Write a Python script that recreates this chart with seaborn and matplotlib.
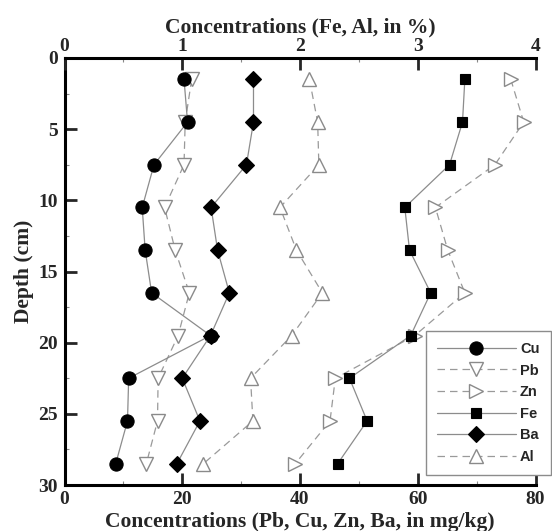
#### Depth profiles of trace elements (mg/kg) and major elements (%)

import numpy as np
import pandas as pd
import matplotlib
matplotlib.use('Agg')
import matplotlib.pyplot as plt
from matplotlib.ticker import MultipleLocator
import seaborn as sns

#### Data
depth = [1.5, 4.5, 7.5, 10.5, 13.5, 16.5, 19.5, 22.5, 25.5, 28.5]
cu = [20.3, 20.9, 15.2, 13.2, 13.7, 14.8, 24.8, 10.9, 10.7, 8.7]
pb = [21.6, 20.5, 20.3, 17.0, 18.8, 21.2, 19.3, 15.9, 15.8, 13.9]
zn = [75.8, 78.0, 73.1, 63.0, 65.1, 68.0, 59.5, 46.0, 45.1, 39.2]
ba = [32.1, 32.1, 30.9, 24.9, 26.0, 28.0, 24.8, 20.0, 23.0, 19.1]
fe = [3.40, 3.38, 3.27, 2.89, 2.93, 3.11, 2.94, 2.42, 2.57, 2.32]
al = [2.08, 2.15, 2.16, 1.83, 1.97, 2.19, 1.93, 1.58, 1.60, 1.18]

legend_order = ['Cu', 'Pb', 'Zn', 'Fe', 'Ba', 'Al']
bottom_ticks = [0, 20, 40, 60, 80]
top_ticks = [0, 1, 2, 3, 4]
depth_ticks = [0, 5, 10, 15, 20, 25, 30]

df_mg = pd.DataFrame({'Depth': depth * 4,
                      'Conc': cu + pb + zn + ba,
                      'Element': ['Cu'] * 10 + ['Pb'] * 10 + ['Zn'] * 10 + ['Ba'] * 10})
df_pct = pd.DataFrame({'Depth': depth * 2,
                       'Conc': fe + al,
                       'Element': ['Fe'] * 10 + ['Al'] * 10})

#### Styles (filled black markers on solid lines, hollow grey ones on dashed lines)
solid = dict(color='#8c8c8c', lw=0.9, ls='-', mfc='black', mec='black', mew=0.8, zorder=4)
dashed = dict(color='#9a9a9a', lw=0.9, ls=(0, (6, 4)), mfc='white', mec='#8a8a8a', mew=1.0, zorder=3)
styles = {
    'Cu': dict(solid, marker='o', ms=9.5),
    'Pb': dict(dashed, marker='v', ms=10),
    'Zn': dict(dashed, marker='>', ms=10),
    'Fe': dict(solid, marker='s', ms=7.8),
    'Ba': dict(solid, marker='D', ms=8),
    'Al': dict(dashed, marker='^', ms=10),
}

sns.set_theme(style='white')
plt.rcParams['font.family'] = ['Liberation Serif', 'DejaVu Serif']
plt.rcParams['font.weight'] = 'bold'

fig = plt.figure(figsize=(5.52, 5.31), dpi=100)
ax = fig.add_axes([64.5 / 552, 1 - 485 / 531, 471 / 552, 427 / 531])
ax2 = ax.twiny()

handles = {}
for el in ['Pb', 'Zn', 'Cu', 'Ba']:
    sns.lineplot(data=df_mg[df_mg['Element'] == el], x='Conc', y='Depth', orient='y',
                 estimator=None, ax=ax, label=el, legend=False, **styles[el])
    handles[el] = ax.lines[-1]
for el in ['Al', 'Fe']:
    sns.lineplot(data=df_pct[df_pct['Element'] == el], x='Conc', y='Depth', orient='y',
                 estimator=None, ax=ax2, label=el, legend=False, **styles[el])
    handles[el] = ax2.lines[-1]

ax.set_xlim(0, 80)
ax2.set_xlim(0, 4)
ax.set_ylim(30, 0)

ax.set_xticks(bottom_ticks)
ax2.set_xticks(top_ticks)
ax.set_yticks(depth_ticks)
ax.xaxis.set_minor_locator(MultipleLocator(10))
ax2.xaxis.set_minor_locator(MultipleLocator(0.5))
ax.yaxis.set_minor_locator(MultipleLocator(2.5))

for a in (ax, ax2):
    for s in a.spines.values():
        s.set_visible(False)
        s.set_linewidth(2.2)
        s.set_color('black')
ax.spines['left'].set_visible(True)
ax.spines['bottom'].set_visible(True)
ax2.spines['top'].set_visible(True)

ax.tick_params(axis='x', which='major', direction='in', length=8.5, width=2, bottom=True, top=False,
               labelsize=14, pad=4)
ax.tick_params(axis='x', which='minor', direction='in', length=3, width=0.8, color='#888888',
               bottom=True, top=False)
ax.tick_params(axis='y', which='major', direction='in', length=8.5, width=2, left=True, right=False,
               labelsize=14, pad=5)
ax.tick_params(axis='y', which='minor', direction='in', length=3, width=0.8, color='#888888',
               left=True, right=False)
ax2.tick_params(axis='x', which='major', direction='in', length=8.5, width=2, top=True, bottom=False,
                labelsize=14, pad=2)
ax2.tick_params(axis='x', which='minor', direction='in', length=3, width=0.8, color='#888888',
                top=True, bottom=False)

ax.set_xlabel('Concentrations (Pb, Cu, Zn, Ba, in mg/kg)', fontsize=15.5, fontweight='bold', labelpad=3)
ax2.set_xlabel('Concentrations (Fe, Al, in %)', fontsize=15.5, fontweight='bold', labelpad=4)
ax.set_ylabel('Depth (cm)', fontsize=15.5, fontweight='bold', labelpad=3)
ax.grid(False)
ax2.grid(False)

leg = ax2.legend([handles[k] for k in legend_order], legend_order,
                 loc='upper left', bbox_to_anchor=(426 / 552, 1 - 331 / 531),
                 bbox_transform=fig.transFigure, frameon=True, fancybox=False, borderaxespad=0,
                 handlelength=5.4, handletextpad=0.3, labelspacing=0.52, borderpad=0.75,
                 prop={'family': ['Liberation Sans', 'DejaVu Sans'], 'weight': 'bold', 'size': 10.5})
leg.get_frame().set_edgecolor('#8c8c8c')
leg.get_frame().set_linewidth(1.0)
leg.get_frame().set_alpha(1)
leg.set_zorder(10)

plt.savefig('out.png', dpi=100)
